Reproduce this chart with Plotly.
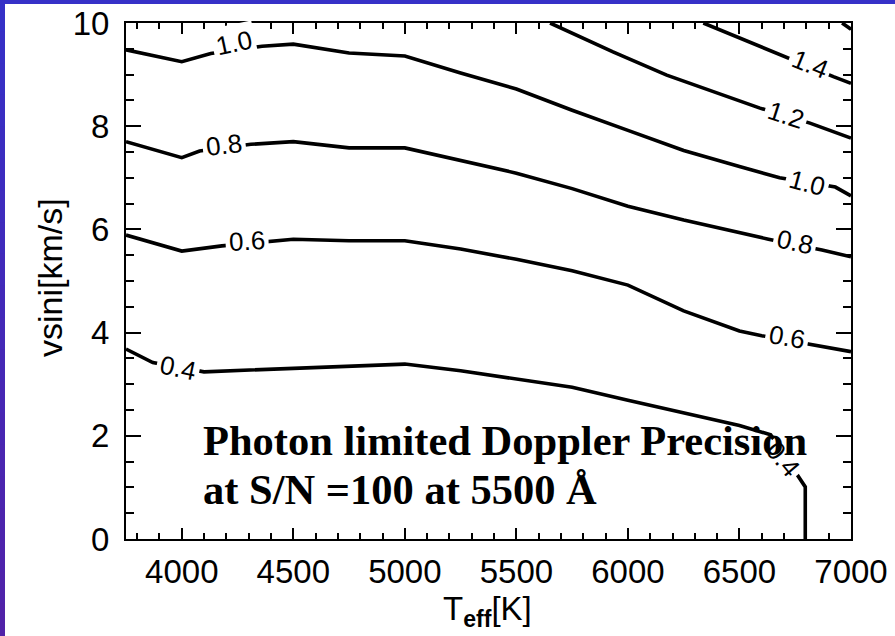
import plotly.graph_objects as go

# ---- data (Teff in K, vsini in km/s) ----
levels = ["0.4", "0.6", "0.8", "1.0", "1.2", "1.4", "1.6"]

teff_04 = [3750, 3870, 4100, 4500, 5000, 5250, 5500, 5750, 6000, 6250, 6500, 6640, 6765, 6795, 6795]
vsini_04 = [3.68, 3.42, 3.24, 3.31, 3.39, 3.26, 3.10, 2.94, 2.69, 2.45, 2.20, 2.02, 1.21, 1.01, 0.0]

teff_06 = [3750, 4000, 4180, 4420, 4500, 4750, 5000, 5250, 5500, 5750, 6000, 6250, 6500, 6600, 6840, 7000]
vsini_06 = [5.89, 5.58, 5.68, 5.78, 5.81, 5.78, 5.78, 5.62, 5.42, 5.20, 4.92, 4.42, 4.03, 3.94, 3.76, 3.63]

teff_08 = [3750, 4000, 4080, 4310, 4500, 4750, 5000, 5250, 5500, 5750, 6000, 6250, 6500, 6630, 6870, 7000]
vsini_08 = [7.70, 7.39, 7.52, 7.65, 7.70, 7.58, 7.58, 7.34, 7.09, 6.79, 6.45, 6.18, 5.93, 5.81, 5.60, 5.47]

teff_10 = [3750, 4000, 4130, 4360, 4500, 4750, 5000, 5250, 5500, 5750, 6000, 6250, 6500, 6680, 6930, 7000]
vsini_10 = [9.48, 9.25, 9.41, 9.55, 9.59, 9.42, 9.36, 9.03, 8.72, 8.31, 7.92, 7.53, 7.22, 7.00, 6.82, 6.65]

teff_12 = [5651, 5933, 6174, 6592, 6816, 7000]
vsini_12 = [10.0, 9.44, 8.99, 8.35, 8.06, 7.77]

teff_14 = [6338, 6697, 6921, 7000]
vsini_14 = [10.0, 9.35, 8.96, 8.83]

teff_16 = [6960, 7000]
vsini_16 = [10.0, 9.88]

x_ticks = [4000, 4500, 5000, 5500, 6000, 6500, 7000]
y_ticks = [0, 2, 4, 6, 8, 10]

# contour label placements: (text, teff, vsini, angle)
label_text = ["1.0", "0.8", "0.6", "0.4", "1.4", "1.2", "1.0", "0.8", "0.6", "0.4"]
label_teff = [4234, 4189, 4294, 3983, 6816, 6707, 6804, 6749, 6715, 6695]
label_vsini = [9.61, 7.64, 5.78, 3.31, 9.20, 8.22, 6.89, 5.76, 3.91, 1.55]
label_angle = [-12, -7, -3, 12, 22, 18, 15, 12, 10, 50]

fig = go.Figure()

series = [(teff_04, vsini_04), (teff_06, vsini_06), (teff_08, vsini_08),
          (teff_10, vsini_10), (teff_12, vsini_12), (teff_14, vsini_14),
          (teff_16, vsini_16)]
for name, (xs, ys) in zip(levels, series):
    fig.add_trace(go.Scatter(x=xs, y=ys, mode="lines", name=name,
                             line=dict(color="black", width=3.6),
                             showlegend=False, hoverinfo="skip"))

sans = "Liberation Sans, Arial, sans-serif"
serif = "Liberation Serif, Times New Roman, serif"

annotations = []
for t, xv, yv, a in zip(label_text, label_teff, label_vsini, label_angle):
    annotations.append(dict(x=xv, y=yv, xref="x", yref="y", text=t, showarrow=False,
                            textangle=a, bgcolor="white", borderpad=3,
                            font=dict(family=sans, size=26, color="black")))

# note text
annotations.append(dict(x=4086, y=1.90, xref="x", yref="y", xanchor="left", yanchor="middle",
                        text="<b>Photon limited Doppler Precision</b>", showarrow=False,
                        font=dict(family=serif, size=42.5, color="black")))
annotations.append(dict(x=4086, y=0.95, xref="x", yref="y", xanchor="left", yanchor="middle",
                        text="<b>at S/N =100 at 5500 Å</b>", showarrow=False,
                        font=dict(family=serif, size=42.5, color="black")))

W, H = 725.0, 516.0  # plot area in pixels

# axis titles
annotations.append(dict(x=(50-126)/W, y=(539-278)/H, xref="paper", yref="paper",
                        xanchor="center", yanchor="middle",
                        text="vsini[km/s]", textangle=-90, showarrow=False,
                        font=dict(family=sans, size=34, color="black")))
annotations.append(dict(x=(487.5-126)/W, y=-(611-539)/H, xref="paper", yref="paper",
                        xanchor="center", yanchor="middle",
                        text="T<sub><b>eff</b></sub>[K]", showarrow=False,
                        font=dict(family=sans, size=33, color="black")))

shapes = []
# slide frame: top bar and left gradient bar
shapes.append(dict(type="rect", xref="paper", yref="paper",
                   x0=-126/W, x1=(895-126)/W, y0=(539-4)/H, y1=(539+1)/H,
                   fillcolor="#3631c8", line=dict(width=0), layer="above"))
nseg = 20
c0 = (0x35, 0x31, 0xc8)
c1 = (0x52, 0x22, 0xa8)
for i in range(nseg):
    f = (i + 0.5) / nseg
    col = "rgb(%d,%d,%d)" % tuple(int(c0[k] + (c1[k] - c0[k]) * f) for k in range(3))
    py0 = 636 * i / nseg - 0.5
    py1 = 636 * (i + 1) / nseg + 0.5
    shapes.append(dict(type="rect", xref="paper", yref="paper",
                       x0=(-126-1)/W, x1=(5-126)/W, y0=(539-py1)/H, y1=(539-py0)/H,
                       fillcolor=col, line=dict(width=0), layer="above"))

axis_font = dict(family=sans, size=33, color="black")

fig.update_layout(
    width=895, height=636,
    margin=dict(l=126, r=44, t=23, b=97, autoexpand=False),
    paper_bgcolor="white", plot_bgcolor="white",
    annotations=annotations, shapes=shapes,
    xaxis=dict(range=[3750, 7000], tickvals=x_ticks, ticks="inside", ticklen=11, tickwidth=2,
               tickcolor="black", showline=True, linecolor="black", linewidth=2, mirror="allticks",
               showgrid=False, zeroline=False, tickfont=axis_font, automargin=False,
               ticklabelstandoff=2,
               minor=dict(dtick=100, ticks="inside", ticklen=6, tickwidth=2, tickcolor="black", showgrid=False)),
    yaxis=dict(range=[0, 10], tickvals=y_ticks, ticks="inside", ticklen=15, tickwidth=2,
               tickcolor="black", showline=True, linecolor="black", linewidth=2, mirror="allticks",
               showgrid=False, zeroline=False, tickfont=axis_font, automargin=False,
               ticklabelstandoff=8,
               minor=dict(dtick=0.5, ticks="inside", ticklen=8, tickwidth=2, tickcolor="black", showgrid=False)),
)

fig.write_html("out.html")
